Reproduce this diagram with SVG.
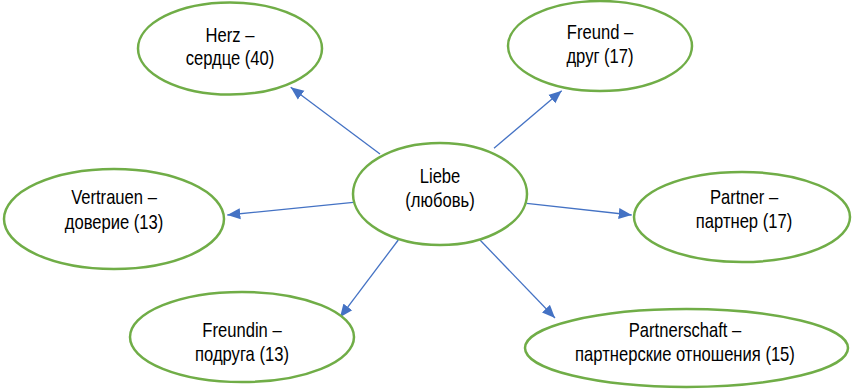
<svg xmlns="http://www.w3.org/2000/svg" width="852" height="389" viewBox="0 0 852 389">
<style>
.node ellipse{fill:#fff;stroke:#70AD47;stroke-width:2.5}
.node text{font-family:"Liberation Sans Narrow","Arial Narrow","Liberation Sans",sans-serif;font-size:20px;fill:#000;text-anchor:middle}
.conn line{stroke:#4472C4;stroke-width:1.3;fill:none}
</style>
<defs>
<marker id="ah" markerUnits="userSpaceOnUse" markerWidth="14" markerHeight="12" refX="13" refY="5.5" orient="auto" viewBox="0 0 14 11">
<path d="M0,0 L13,5.5 L0,11 z" fill="#4472C4"/>
</marker>
</defs>
<rect width="852" height="389" fill="#fff"/>
<g id="connectors" class="conn">
<line x1="380" y1="154" x2="290.7" y2="87.3" marker-end="url(#ah)"/>
<line x1="494" y1="148.3" x2="561.7" y2="90.7" marker-end="url(#ah)"/>
<line x1="353.3" y1="202.3" x2="227.3" y2="215" marker-end="url(#ah)"/>
<line x1="526.7" y1="203.3" x2="631.7" y2="215" marker-end="url(#ah)"/>
<line x1="398.3" y1="240" x2="340" y2="317.3" marker-end="url(#ah)"/>
<line x1="480" y1="240" x2="555" y2="318" marker-end="url(#ah)"/>
</g>
<g id="liebe" class="node">
<ellipse cx="440" cy="194" rx="87" ry="51"/>
<g transform="translate(440,0) scale(0.83,1)">
<text x="0" y="183.3">Liebe</text>
<text x="0" y="206.7">(любовь)</text>
</g>
</g>
<g id="herz" class="node">
<ellipse cx="230" cy="48.5" rx="92" ry="46"/>
<g transform="translate(230,0) scale(0.83,1)">
<text x="0" y="41.7">Herz –</text>
<text x="0" y="65">сердце (40)</text>
</g>
</g>
<g id="freund" class="node">
<ellipse cx="600" cy="46" rx="92" ry="45"/>
<g transform="translate(600,0) scale(0.83,1)">
<text x="0" y="39">Freund –</text>
<text x="0" y="63">друг (17)</text>
</g>
</g>
<g id="vertrauen" class="node">
<ellipse cx="114" cy="219" rx="110" ry="50"/>
<g transform="translate(114,0) scale(0.83,1)">
<text x="0" y="204">Vertrauen –</text>
<text x="0" y="229">доверие (13)</text>
</g>
</g>
<g id="partner" class="node">
<ellipse cx="742" cy="217" rx="108" ry="45"/>
<g transform="translate(744,0) scale(0.83,1)">
<text x="0" y="204.3">Partner –</text>
<text x="0" y="228.3">партнер (17)</text>
</g>
</g>
<g id="freundin" class="node">
<ellipse cx="242" cy="337" rx="112" ry="45"/>
<g transform="translate(242,0) scale(0.83,1)">
<text x="0" y="337">Freundin –</text>
<text x="0" y="361">подруга (13)</text>
</g>
</g>
<g id="partnerschaft" class="node">
<ellipse cx="686.5" cy="348" rx="161.5" ry="39"/>
<g transform="translate(685,0) scale(0.83,1)">
<text x="0" y="336.7">Partnerschaft –</text>
<text x="0" y="360.7">партнерские отношения (15)</text>
</g>
</g>
</svg>
